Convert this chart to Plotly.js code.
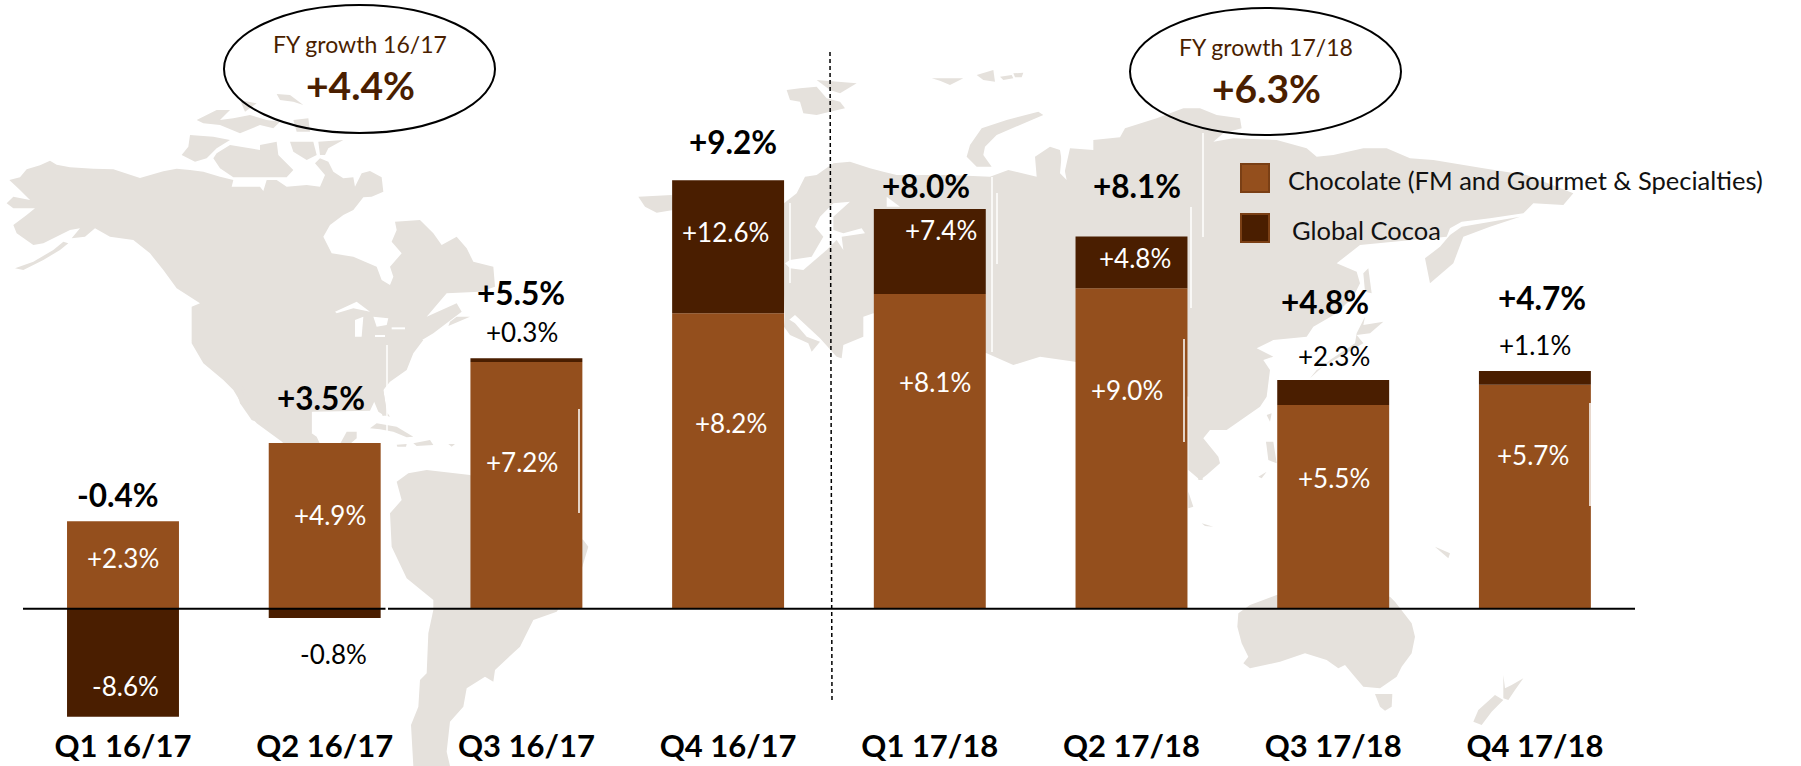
<!DOCTYPE html>
<html><head><meta charset="utf-8">
<script src="https://cdn.plot.ly/plotly-3.0.1.min.js"></script>
<style>html,body{margin:0;padding:0;background:#fff}#c{width:1801px;height:766px}</style>
</head><body><div id="c"></div>
<script>
const categories=['Q1 16/17','Q2 16/17','Q3 16/17','Q4 16/17','Q1 17/18','Q2 17/18','Q3 17/18','Q4 17/18'];
// Bar heights as drawn in the picture (the picture is not strictly to scale with its labels)
const chocolate=[2.43,4.60,6.85,8.21,8.74,8.90,5.66,6.22];
const cocoa=[-3.00,-0.26,0.11,3.69,2.36,1.44,0.69,0.38];
const totalLabels=['-0.4%','+3.5%','+5.5%','+9.2%','+8.0%','+8.1%','+4.8%','+4.7%'];
const chocolateLabels=['+2.3%','+4.9%','+7.2%','+8.2%','+8.1%','+9.0%','+5.5%','+5.7%'];
const cocoaLabels=['-8.6%','-0.8%','+0.3%','+12.6%','+7.4%','+4.8%','+2.3%','+1.1%'];
const cocoaLabelColors=['#fff','#000','#000','#fff','#fff','#fff','#000','#000'];
const totalPos=[[118,495],[321,398],[521,293],[733,142],[926,186],[1137,186],[1325,302],[1542,298]];
const chocolatePos=[[123,558],[330,515],[522,462],[731,423],[935,382],[1127,390],[1334,478],[1533,455]];
const cocoaPos=[[126,686],[333,654],[522,332],[725,232],[941,230],[1135,258],[1334,356],[1535,345]];

const W=1801,H=766,B=41,PH=H-B;
const BROWN='#944f1d',DARK='#4a1e00',LAND='#e5e1dc',EDGE='#7a3f15',FONT='Lato, Carlito, Calibri, sans-serif';
const px=x=>x/W, py=y=>(PH-y)/PH;

// Background world map outlines: [offsetX, offsetY, [x,y,...]] traced at 3x from the picture
const z5=(...p)=>[0,90,p], z6=(...p)=>[180,340,p], z7=(...p)=>[620,60,p], z8=(...p)=>[1100,50,p], z9=(...p)=>[1130,360,p];
const landPolys=[
 z5(28,270,60,262,80,238,120,226,150,212,170,224,210,232,280,236,340,238,420,264,490,244,530,236,570,240,610,245,660,260,700,270,695,290,780,290,790,303,800,270,830,270,860,290,920,285,960,290,975,255,945,220,960,205,985,215,1000,245,1030,265,1060,262,1065,290,1085,250,1110,243,1145,262,1150,305,1115,320,1090,322,1060,360,1030,375,990,405,970,440,995,490,1060,500,1130,530,1145,570,1170,585,1180,560,1170,530,1205,490,1175,455,1190,420,1185,395,1260,390,1300,430,1325,465,1370,440,1400,475,1420,515,1480,530,1485,590,1440,605,1340,610,1280,680,1370,640,1385,665,1300,730,1250,760,1220,830,1160,880,1150,900,1160,965,1170,980,1150,975,1135,965,1110,905,1060,890,935,965,935,1030,850,1058,770,1000,730,950,700,900,670,870,610,820,575,760,575,650,600,640,530,595,490,540,450,490,400,450,330,440,285,415,255,440,215,445,240,415,210,420,130,460,100,465,50,430,40,405,80,375,105,355,40,355,20,340,40,320,90,330,60,300),
 z5(190,455,160,480,100,515,45,535,70,540,130,510,180,480,205,460),
 z5(570,135,640,140,690,150,650,175,620,205,585,215,545,195,565,170),
 z5(650,190,690,165,780,180,780,165,830,155,835,195,880,240,860,262,700,262,660,235,640,205),
 z5(955,155,1030,150,985,175,975,195,960,195),
 z5(590,90,650,60,690,60,660,90,700,85,750,75,800,90,840,95,820,115,780,105,720,130,660,105,610,100),
 z5(830,12,870,15,910,45,880,35,840,30),
 z5(720,30,770,40,735,65),
 z5(870,155,940,155,950,195,920,210,880,185),
 z5(880,90,925,85,930,125,890,125),
 z5(1345,708,1410,680,1370,680,1350,695),
 // Mexico / Central America
 z6(35,0,70,50,130,110,190,140,240,240,290,260,310,312,420,312,410,290,395,280,395,215,570,212,590,170,608,228,622,225,610,150,630,125,680,90,700,40,730,0),
 z6(480,312,500,275,530,275,530,295,510,312),
 z6(165,140,180,140,235,248,215,240,180,190),
 z6(570,265,590,250,650,260,700,290,680,292,640,275,600,268),
 z6(700,310,750,300,760,315,710,318),
 z6(650,314,680,312,678,320,652,320),
 z6(805,312,825,312,815,320),
 // South America
 z6(685,400,740,390,870,405,1210,600,1225,620,1195,720,1130,815,1060,840,1020,920,945,990,940,1025,915,1010,860,1045,850,1100,810,1145,800,1235,810,1278,700,1278,693,1155,715,1100,720,1020,740,1000,745,880,760,810,760,780,680,715,635,620,630,520,665,480,650,425),
 // Iceland, Svalbard, northern islands
 z7(55,410,155,405,160,450,110,458,75,440),
 z7(500,90,540,85,590,80,620,115,660,125,675,145,630,155,590,165,550,160,540,125,510,120),
 z7(590,60,710,70,660,100,630,90,610,75),
 z7(1040,290,1050,255,1085,205,1160,180,1255,155,1270,165,1200,195,1130,225,1095,260,1090,285,1115,320,1070,320),
 z7(935,55,1030,55,990,75,960,62),
 z7(1070,45,1120,30,1125,65,1090,60),
 z7(1140,50,1175,45,1180,55,1150,60),
 z7(1180,40,1210,38,1205,52,1185,52),
 // Eurasia
 z8(-948,460,-910,430,-885,380,-850,375,-800,340,-750,335,-690,355,-650,365,-610,375,-570,375,-450,375,-330,380,-275,360,-190,380,-195,320,-150,290,-120,300,-108,375,-90,295,-20,300,-20,270,60,262,75,235,170,205,250,175,300,175,350,195,420,205,425,235,370,250,340,275,400,265,530,270,620,295,650,320,700,315,790,295,860,295,930,325,1000,330,1150,355,1280,375,1420,430,1390,465,1300,460,1270,490,1170,505,1085,515,1050,535,1040,560,880,575,780,585,710,640,770,665,780,700,760,740,710,790,640,830,620,860,520,870,470,895,520,920,490,930,510,960,500,1040,480,1070,380,1140,330,1140,310,1165,355,1220,360,1240,320,1275,300,1290,265,1260,265,1040,-75,935,-180,920,-260,945,-340,910,-680,790,-710,800,-710,860,-770,885,-775,925,-790,920,-840,865,-915,795,-945,820,-948,730),
 z8(-945,800,-915,820,-880,860,-840,875,-865,905,-875,880,-930,855,-948,830),
 z8(1260,500,1170,530,1090,560,1060,640,990,700,975,625,1020,590,1050,555,1085,530),
 z8(790,670,805,655,815,730,795,725),
 z8(795,800,790,825,850,815,810,850,770,855,790,880,650,960,630,985,690,930,765,880,770,850),
 // SE Asia odds and ends
 z9(410,165,425,160,420,185),
 z9(408,245,430,245,440,310,415,300),
 z9(175,395,190,440,175,445),
 z9(215,490,250,500,225,498),
 z9(385,350,410,335,395,355),
 z9(205,345,218,345,218,360,205,360),
 // Australia, Tasmania, New Zealand, Fiji
 z9(440,705,360,735,325,760,322,800,335,850,355,890,340,910,360,925,450,905,525,880,590,900,625,925,645,915,670,945,700,980,750,985,800,950,815,920,845,880,855,830,845,790,795,725,780,710),
 z9(735,1002,787,1002,785,1040,765,1052,750,1040),
 z9(1105,920,1120,945,1125,985,1145,975,1180,955,1155,990,1135,1020,1120,1015,1120,945),
 z9(1095,1005,1120,1020,1085,1055,1055,1095,1030,1085,1045,1050),
 z9(915,560,960,580,955,595,920,565)
];
// Water bodies cut out of the land
const waterPolys=[
 z5(1005,665,1070,635,1110,665,1060,655,1010,670),
 z5(1065,690,1090,680,1085,740,1065,740),
 z5(1120,680,1165,685,1160,705,1130,710),
 z5(1125,735,1155,735,1155,741,1125,741),
 z5(1175,712,1215,712,1215,718,1175,718),
 z7(690,425,640,430,600,470,585,500,610,530,575,590,510,600,495,610,510,625,550,630,620,570,650,540,670,570,665,530,735,520,725,505,670,520,640,510,640,470),
 z7(1325,285,1340,360,1320,340),
 z7(800,410,840,440,800,440),
 z9(255,235,285,225,270,242)
];
function polyPath(a){
  const [ox,oy,p]=a; let s='';
  for(let i=0;i<p.length;i+=2){ s+=(i?'L':'M')+px(ox+p[i]/3).toFixed(5)+' '+py(oy+p[i+1]/3).toFixed(5); }
  return s+'Z';
}
const shapes=[];
landPolys.forEach(a=>shapes.push({type:'path',xref:'paper',yref:'paper',path:polyPath(a),fillcolor:LAND,line:{width:0},layer:'below'}));
waterPolys.forEach(a=>shapes.push({type:'path',xref:'paper',yref:'paper',path:polyPath(a),fillcolor:'#fff',line:{width:0},layer:'below'}));
function seg(x0,y0,x1,y1,color,width,layer,dash){
  shapes.push({type:'line',xref:'paper',yref:'paper',x0:px(x0),x1:px(x1),y0:py(y0),y1:py(y1),line:{color,width,dash:dash||'solid'},layer:layer||'above'});
}
// thin white slivers visible in the picture
[[387,345,387,608],[790,203,790,283],[992,177,992,352],[997,193,997,264],[1203,133,1203,237],[1191,207,1191,308]].forEach(s=>seg(...s,'#fff',1.5,'below'));
[[579,409,579,513],[1184,339,1184,442],[1590,403,1590,506]].forEach(s=>seg(...s,'#fff',1.5,'above'));
// baseline, divider
seg(23,608.7,385.5,608.7,'#000',2);
seg(388,608.7,1635,608.7,'#000',2);
seg(830,52,832,702,'#000',1.5,'above','4px,3px');
// ellipses
[[224,5,495,133],[1130,8,1401,135]].forEach(e=>shapes.push({type:'circle',xref:'paper',yref:'paper',x0:px(e[0]),x1:px(e[2]),y0:py(e[1]),y1:py(e[3]),line:{color:'#000',width:2},fillcolor:'rgba(0,0,0,0)',layer:'above'}));
// legend swatches
[[1241,164,1269,192,BROWN],[1241,214,1269,242,DARK]].forEach(r=>shapes.push({type:'rect',xref:'paper',yref:'paper',x0:px(r[0]),x1:px(r[2]),y0:py(r[1]),y1:py(r[3]),fillcolor:r[4],line:{color:EDGE,width:2},layer:'above'}));

const ann=[];
function label(t,x,y,size,color,bold,anchor){
  ann.push({text:bold?'<b>'+t+'</b>':t,xref:'paper',yref:'paper',x:px(x),y:py(y),xanchor:anchor||'center',yanchor:'middle',showarrow:false,font:{family:FONT,size,color}});
}
categories.forEach((c,i)=>{
  label(totalLabels[i],totalPos[i][0],totalPos[i][1],31.5,'#000',true);
  label(chocolateLabels[i],chocolatePos[i][0],chocolatePos[i][1],26,'#fff',false);
  label(cocoaLabels[i],cocoaPos[i][0],cocoaPos[i][1],26,cocoaLabelColors[i],false);
});
label('FY growth 16/17',360,44,23,DARK,false);
label('+4.4%',360,85,39,DARK,true);
label('FY growth 17/18',1266,47,23,DARK,false);
label('+6.3%',1266,88,39,DARK,true);
label('Chocolate (FM and Gourmet &amp; Specialties)',1286,180,25.5,'#111',false,'left');
label('Global Cocoa',1290,230,25.5,'#111',false,'left');

const traces=[
 {type:'bar',name:'Chocolate (FM and Gourmet & Specialties)',x:categories,y:chocolate,marker:{color:BROWN,line:{width:0}},hoverinfo:'skip'},
 {type:'bar',name:'Global Cocoa',x:categories,y:cocoa,marker:{color:DARK,line:{width:0}},hoverinfo:'skip'}
];
const unit=36, base=608.7;
const layout={
 width:W,height:H,margin:{l:0,r:0,t:0,b:B},paper_bgcolor:'#fff',plot_bgcolor:'rgba(0,0,0,0)',
 barmode:'relative',bargap:0.445,showlegend:false,
 xaxis:{type:'category',range:[-123/201.7,(W-123)/201.7],tickfont:{family:FONT,size:31,color:'#000'},tickmode:'array',tickvals:categories,ticktext:categories.map(c=>'<b>'+c+'</b>'),ticklen:0,showline:false,showgrid:false,zeroline:false,fixedrange:true,automargin:false},
 yaxis:{range:[-(PH-base)/unit,base/unit],visible:false,fixedrange:true,zeroline:false,showgrid:false},
 shapes,annotations:ann
};
Plotly.newPlot('c',traces,layout,{displayModeBar:false,staticPlot:true});
</script></body></html>
